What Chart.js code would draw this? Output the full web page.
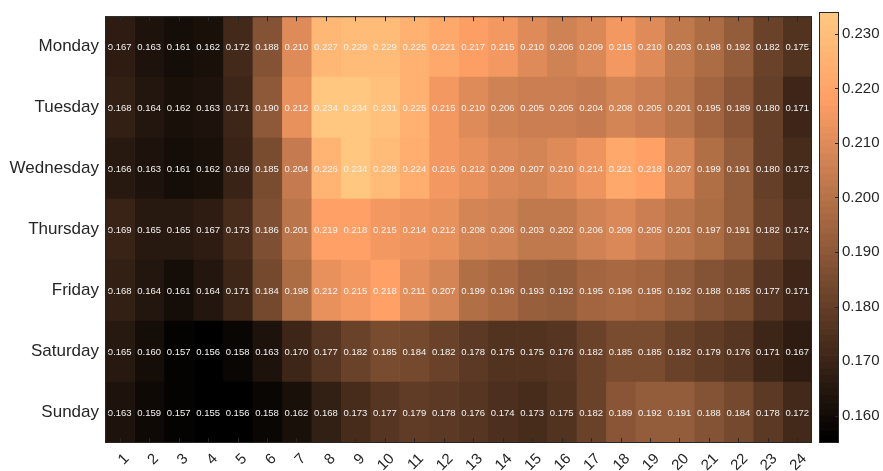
<!DOCTYPE html>
<html>
<head>
<meta charset="utf-8">
<script src="https://cdn.jsdelivr.net/npm/chart.js@4.4.0/dist/chart.umd.min.js"></script>
<style>
  html, body { margin: 0; padding: 0; background: #ffffff; }
  #wrap { position: relative; width: 883px; height: 471px; }
  #main { position: absolute; left: 0; top: 0; }
  #cbar { position: absolute; left: 812px; top: 0; }
</style>
</head>
<body>
<div id="wrap">
  <canvas id="main" width="883" height="471"></canvas>
  <canvas id="cbar" width="71" height="471"></canvas>
</div>
<script>
// Weekday x hour-of-day averages
const days = ['Monday', 'Tuesday', 'Wednesday', 'Thursday', 'Friday', 'Saturday', 'Sunday'];
const hours = [1, 2, 3, 4, 5, 6, 7, 8, 9, 10, 11, 12, 13, 14, 15, 16, 17, 18, 19, 20, 21, 22, 23, 24];

const monday    = [0.167, 0.163, 0.161, 0.162, 0.172, 0.188, 0.210, 0.227, 0.229, 0.229, 0.225, 0.221, 0.217, 0.215, 0.210, 0.206, 0.209, 0.215, 0.210, 0.203, 0.198, 0.192, 0.182, 0.175];
const tuesday   = [0.168, 0.164, 0.162, 0.163, 0.171, 0.190, 0.212, 0.234, 0.234, 0.231, 0.225, 0.215, 0.210, 0.206, 0.205, 0.205, 0.204, 0.208, 0.205, 0.201, 0.195, 0.189, 0.180, 0.171];
const wednesday = [0.166, 0.163, 0.161, 0.162, 0.169, 0.185, 0.204, 0.226, 0.234, 0.228, 0.224, 0.215, 0.212, 0.209, 0.207, 0.210, 0.214, 0.221, 0.218, 0.207, 0.199, 0.191, 0.180, 0.173];
const thursday  = [0.169, 0.165, 0.165, 0.167, 0.173, 0.186, 0.201, 0.219, 0.218, 0.215, 0.214, 0.212, 0.208, 0.206, 0.203, 0.202, 0.206, 0.209, 0.205, 0.201, 0.197, 0.191, 0.182, 0.174];
const friday    = [0.168, 0.164, 0.161, 0.164, 0.171, 0.184, 0.198, 0.212, 0.215, 0.218, 0.211, 0.207, 0.199, 0.196, 0.193, 0.192, 0.195, 0.196, 0.195, 0.192, 0.188, 0.185, 0.177, 0.171];
const saturday  = [0.165, 0.160, 0.157, 0.156, 0.158, 0.163, 0.170, 0.177, 0.182, 0.185, 0.184, 0.182, 0.178, 0.175, 0.175, 0.176, 0.182, 0.185, 0.185, 0.182, 0.179, 0.176, 0.171, 0.167];
const sunday    = [0.163, 0.159, 0.157, 0.155, 0.156, 0.158, 0.162, 0.168, 0.173, 0.177, 0.179, 0.178, 0.176, 0.174, 0.173, 0.175, 0.182, 0.189, 0.192, 0.191, 0.188, 0.184, 0.178, 0.172];

const colorbarTicks = [0.160, 0.170, 0.180, 0.190, 0.200, 0.210, 0.220, 0.230];

const rows = [monday, tuesday, wednesday, thursday, friday, saturday, sunday];
const allValues = rows.flat();
const cmin = Math.min(...allValues);
const cmax = Math.max(...allValues);
const LEVELS = 64;
const FONT = "'Liberation Sans', Arial, Helvetica, sans-serif";
const INK = '#262626';

// 64-step copper colormap
function copperLevel(i) {
  const t = i / (LEVELS - 1);
  const r = Math.min(1, 1.25 * t), g = 0.7812 * t, b = 0.4975 * t;
  return `rgb(${Math.round(r * 255)},${Math.round(g * 255)},${Math.round(b * 255)})`;
}
function colorFor(v) {
  const t = (v - cmin) / (cmax - cmin);
  return copperLevel(Math.min(LEVELS - 1, Math.floor(t * LEVELS)));
}

// Value written in the middle of every cell
const cellText = {
  id: 'cellText',
  afterDatasetsDraw(chart) {
    const ctx = chart.ctx;
    ctx.save();
    ctx.font = `9.5px ${FONT}`;
    ctx.fillStyle = '#f2f2f2';
    ctx.textAlign = 'center';
    ctx.textBaseline = 'middle';
    chart.data.datasets.forEach((ds, di) => {
      chart.getDatasetMeta(di).data.forEach((el, ri) => {
        const cx = (el.x + el.base) / 2;
        ctx.fillText(ds.values[ri].toFixed(3), cx, el.y + 0.5);
      });
    });
    ctx.restore();
  }
};

// Axes box with inward tick marks on all four sides
const axesBox = {
  id: 'axesBox',
  afterDraw(chart) {
    const { ctx, chartArea: a, scales } = chart;
    const len = 5;
    ctx.save();
    ctx.strokeStyle = INK;
    ctx.lineWidth = 1;
    ctx.beginPath();
    scales.x.ticks.forEach(t => {
      const px = Math.round(scales.x.getPixelForValue(t.value)) + 0.5;
      ctx.moveTo(px, a.top); ctx.lineTo(px, a.top + len);
      ctx.moveTo(px, a.bottom); ctx.lineTo(px, a.bottom - len);
    });
    days.forEach((d, i) => {
      const py = Math.round(scales.y.getPixelForValue(i)) + 0.5;
      ctx.moveTo(a.left, py); ctx.lineTo(a.left + len, py);
      ctx.moveTo(a.right, py); ctx.lineTo(a.right - len, py);
    });
    ctx.stroke();
    ctx.strokeRect(a.left + 0.5, a.top + 0.5, a.right - a.left - 1, a.bottom - a.top - 1);
    ctx.restore();
  }
};

new Chart(document.getElementById('main'), {
  type: 'bar',
  data: {
    labels: days,
    datasets: hours.map((h, hi) => ({
      label: String(h),
      data: days.map(() => [h - 0.5, h + 0.5]),
      values: rows.map(r => r[hi]),
      backgroundColor: rows.map(r => colorFor(r[hi])),
      borderWidth: 0,
      borderSkipped: false,
      barPercentage: 1,
      categoryPercentage: 1
    }))
  },
  options: {
    responsive: false,
    animation: false,
    indexAxis: 'y',
    layout: { padding: { top: 12, right: 71, left: 0, bottom: 0 } },
    plugins: { legend: { display: false }, tooltip: { enabled: false } },
    scales: {
      x: {
        type: 'linear',
        min: 0.5,
        max: 24.5,
        stacked: false,
        grid: { display: false, drawTicks: false },
        border: { display: false },
        afterBuildTicks: s => { s.ticks = hours.map(v => ({ value: v })); },
        afterFit: s => { s.height = 28; },
        ticks: {
          autoSkip: false,
          minRotation: 45,
          maxRotation: 45,
          padding: 7,
          labelOffset: 7,
          color: INK,
          font: { family: FONT, size: 15 },
          callback: v => String(v)
        }
      },
      y: {
        type: 'category',
        stacked: true,
        grid: { display: false, drawTicks: false },
        border: { display: false },
        afterFit: s => { s.width = 105; },
        ticks: { padding: 6, color: INK, font: { family: FONT, size: 17 } }
      }
    }
  },
  plugins: [cellText, axesBox]
});

// Colour bar: one band per colormap level
const step = (cmax - cmin) / LEVELS;
const bands = Array.from({ length: LEVELS }, (_, i) => ({
  lo: cmin + i * step,
  hi: cmin + (i + 1) * step,
  color: copperLevel(i)
}));

const cbarBox = {
  id: 'cbarBox',
  afterDraw(chart) {
    const { ctx, chartArea: a, scales } = chart;
    ctx.save();
    ctx.strokeStyle = INK;
    ctx.lineWidth = 1;
    ctx.beginPath();
    colorbarTicks.forEach(v => {
      const py = Math.round(scales.y.getPixelForValue(v)) + 0.5;
      ctx.moveTo(a.right, py); ctx.lineTo(a.right - 4, py);
    });
    ctx.stroke();
    ctx.strokeRect(a.left + 0.5, a.top + 0.5, a.right - a.left - 1, a.bottom - a.top - 1);
    ctx.restore();
  }
};

new Chart(document.getElementById('cbar'), {
  type: 'bar',
  data: {
    labels: ['c'],
    datasets: bands.map(b => ({
      data: [[b.lo, b.hi]],
      backgroundColor: b.color,
      borderWidth: 0,
      borderSkipped: false,
      barPercentage: 1,
      categoryPercentage: 1
    }))
  },
  options: {
    responsive: false,
    animation: false,
    layout: { padding: { top: 12, left: 7, right: 0, bottom: 28 } },
    plugins: { legend: { display: false }, tooltip: { enabled: false } },
    scales: {
      x: { display: false, stacked: true },
      y: {
        position: 'right',
        min: cmin,
        max: cmax,
        stacked: false,
        grid: { display: false, drawTicks: false },
        border: { display: false },
        afterBuildTicks: s => { s.ticks = colorbarTicks.map(v => ({ value: v })); },
        afterFit: s => { s.width = 44; },
        ticks: { padding: 3, color: INK, font: { family: FONT, size: 15 }, callback: v => v.toFixed(3) }
      }
    }
  },
  plugins: [cbarBox]
});
</script>
</body>
</html>
